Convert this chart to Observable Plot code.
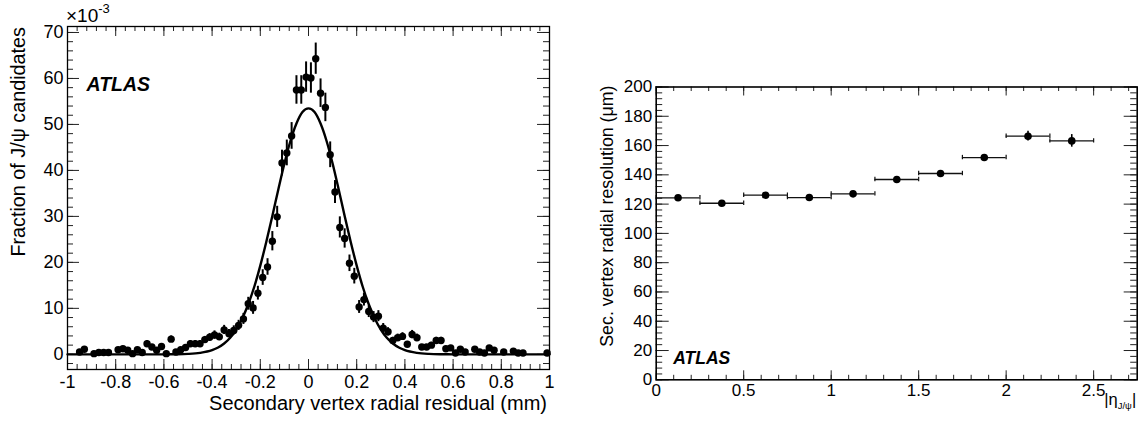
<!DOCTYPE html>
<html><head><meta charset="utf-8">
<script src="https://cdn.jsdelivr.net/npm/d3@7"></script>
<script src="https://cdn.jsdelivr.net/npm/@observablehq/plot@0.6"></script>
<style>
body{margin:0;background:#fff;}
#wrap{display:flex;width:1142px;height:421px;overflow:hidden;}
</style></head><body><div id="wrap"></div>
<script>
// ---- Left panel: secondary vertex radial residual (fraction, x10^-3) ----
const residualX = [-0.95,-0.93,-0.89,-0.87,-0.85,-0.83,-0.79,-0.77,-0.75,-0.73,-0.71,-0.69,-0.67,-0.65,-0.63,-0.61,-0.59,-0.57,-0.55,-0.53,-0.51,-0.49,-0.47,-0.45,-0.43,-0.41,-0.39,-0.37,-0.35,-0.33,-0.31,-0.29,-0.27,-0.25,-0.23,-0.21,-0.19,-0.17,-0.15,-0.13,-0.11,-0.09,-0.07,-0.05,-0.03,-0.01,0.01,0.03,0.05,0.07,0.09,0.11,0.13,0.15,0.17,0.19,0.21,0.23,0.25,0.27,0.29,0.31,0.33,0.35,0.37,0.39,0.41,0.43,0.45,0.47,0.49,0.51,0.53,0.55,0.57,0.59,0.61,0.63,0.65,0.69,0.71,0.73,0.75,0.77,0.81,0.85,0.87,0.89,0.99];
const residualFrac = [0.5,1.1,0.15,0.4,0.4,0.4,1.0,1.2,0.9,0.15,1.0,0.4,2.3,1.6,0.9,1.7,0.15,3.3,0.5,1.0,1.5,2.3,2.3,2.3,3.2,3.7,4.2,3.8,5.3,4.5,5.2,6.3,7.7,11.0,10.1,13.3,16.7,19.0,24.6,29.9,41.6,43.8,47.5,57.5,57.5,60.3,60.1,64.3,56.8,53.7,43.4,35.3,27.6,25.2,19.8,17.0,10.3,11.9,9.3,8.1,8.3,5.7,4.9,3.0,3.6,3.9,2.2,4.3,3.6,1.6,1.6,2.0,3.0,3.0,1.2,1.4,0.3,1.1,0.5,1.1,0.5,0.3,1.4,0.9,0.5,0.7,0.3,0.3,0.3];
const residualErr = [0.4,0.5,0.3,0.4,0.4,0.4,0.4,0.5,0.4,0.3,0.4,0.4,0.7,0.5,0.4,0.5,0.3,0.7,0.4,0.4,0.5,0.7,0.7,0.7,0.7,0.8,0.9,0.8,1.0,0.9,1.0,1.1,1.2,1.4,1.4,1.5,1.7,1.8,2.1,2.3,2.8,2.8,2.9,3.1,3.1,3.3,3.3,3.4,3.1,3.1,2.8,2.5,2.3,2.1,1.8,1.7,1.4,1.4,1.3,1.2,1.2,1.0,0.9,0.7,0.8,0.8,0.6,0.9,0.8,0.5,0.5,0.6,0.7,0.7,0.5,0.5,0.3,0.4,0.4,0.4,0.4,0.3,0.5,0.4,0.4,0.4,0.3,0.3,0.3];
const fitX = [-1,-0.9,-0.8,-0.7,-0.6,-0.55,-0.5,-0.45,-0.4,-0.375,-0.35,-0.325,-0.3,-0.275,-0.25,-0.225,-0.2,-0.175,-0.15,-0.125,-0.1,-0.075,-0.05,-0.025,0,0.025,0.05,0.075,0.1,0.125,0.15,0.175,0.2,0.225,0.25,0.275,0.3,0.325,0.35,0.375,0.4,0.45,0.5,0.55,0.6,0.7,0.8,0.9,1];
const fitY = [0,0,0,0,0,0.02,0.09,0.31,0.90,1.48,2.35,3.6,5.4,7.8,10.9,14.7,19.3,24.5,30.1,35.9,41.5,46.4,50.2,52.7,53.5,52.7,50.2,46.4,41.5,35.9,30.1,24.5,19.3,14.7,10.9,7.8,5.4,3.6,2.35,1.48,0.90,0.31,0.09,0.02,0,0,0,0,0];
const leftXTicks = [-1,-0.8,-0.6,-0.4,-0.2,0,0.2,0.4,0.6,0.8,1];
const leftYTicks = [0,10,20,30,40,50,60,70];

// ---- Right panel: resolution vs |eta| ----
const etaLow  = [0,0.25,0.5,0.75,1.0,1.25,1.5,1.75,2.0,2.25];
const etaHigh = [0.25,0.5,0.75,1.0,1.25,1.5,1.75,2.0,2.25,2.5];
const etaCenter = [0.125,0.375,0.625,0.875,1.125,1.375,1.625,1.875,2.125,2.375];
const resolution = [124.3,120.6,126.1,124.5,127.0,136.8,140.9,151.8,166.4,163.2];
const resolutionErr = [1.5,1.5,1.5,1.5,1.5,1.5,1.8,2.0,3.3,4.3];
const rightXTicks = [0,0.5,1,1.5,2,2.5];
const rightYTicks = [0,20,40,60,80,100,120,140,160,180,200];

const FONT = '"Liberation Sans", Arial, Helvetica, sans-serif';

const leftRows = residualX.map((x,i)=>({x, v: residualFrac[i], e: residualErr[i]}));
const fitRows = fitX.map((x,i)=>({x, y: fitY[i]}));
const rightRows = etaCenter.map((c,i)=>({c, lo: etaLow[i], hi: etaHigh[i], v: resolution[i], e: resolutionErr[i]}));

// Left geometry
const L = {w:570, h:421, ml:67, mr:21, mt:26, mb:52};
const LpW = L.w-L.ml-L.mr, LpH = L.h-L.mt-L.mb;
const leftXMinor = d3.range(-25,26).map(i=>i*0.04);
const leftYMinor = d3.range(-1,36).map(i=>i*2);

const tickStyle = {stroke: "#222", strokeWidth: 1};

const left = Plot.plot({
  width: L.w, height: L.h, marginLeft: L.ml, marginRight: L.mr, marginTop: L.mt, marginBottom: L.mb,
  style: {fontFamily: FONT, fontSize: "17px", color: "black", background: "white", overflow: "visible"},
  x: {domain: [-1, 1]},
  y: {domain: [-3.3, 71.3]},
  marks: [
    Plot.tickX(leftXTicks, {x: d=>d, insetTop: LpH-10, ...tickStyle}),
    Plot.tickX(leftXMinor, {x: d=>d, insetTop: LpH-5, ...tickStyle}),
    Plot.tickX(leftXTicks, {x: d=>d, insetBottom: LpH-10, ...tickStyle}),
    Plot.tickX(leftXMinor, {x: d=>d, insetBottom: LpH-5, ...tickStyle}),
    Plot.tickY(leftYTicks, {y: d=>d, insetRight: LpW-12, ...tickStyle}),
    Plot.tickY(leftYMinor, {y: d=>d, insetRight: LpW-6, ...tickStyle}),
    Plot.tickY(leftYTicks, {y: d=>d, insetLeft: LpW-12, ...tickStyle}),
    Plot.tickY(leftYMinor, {y: d=>d, insetLeft: LpW-6, ...tickStyle}),
    Plot.axisX({ticks: leftXTicks, tickSize: 0, tickPadding: 6, tickFormat: d=>String(d), label: null, fontSize: 18, fontFamily: FONT, fill: "black"}),
    Plot.axisY({ticks: leftYTicks, tickSize: 0, tickPadding: 4, tickFormat: d=>String(d), label: null, fontSize: 18, fontFamily: FONT, fill: "black"}),
    Plot.line(fitRows, {x: "x", y: "y", curve: "monotone-x", stroke: "black", strokeWidth: 2.4}),
    Plot.ruleX(leftRows, {x: "x", y1: d=>d.v-d.e, y2: d=>d.v+d.e, stroke: "black", strokeWidth: 2}),
    Plot.dot(leftRows, {x: "x", y: "v", r: 3.7, fill: "black", stroke: null}),
    Plot.text(["ATLAS"], {frameAnchor: "top-left", dx: 19, dy: 58, textAnchor: "start", lineAnchor: "middle", fontWeight: "bold", fontStyle: "italic", fontSize: 19.5, fontFamily: FONT, fill: "black"}),
    Plot.frame({stroke: "black", strokeWidth: 1.3})
  ]
});

// Right geometry
const R = {w:572, h:421, ml:85.7, mr:5.3, mt:86.5, mb:41.7};
const RpW = R.w-R.ml-R.mr, RpH = R.h-R.mt-R.mb;
const rightXMinor = d3.range(0,28).map(i=>i*0.1);
const rightYMinor = d3.range(0,51).map(i=>i*4);

const right = Plot.plot({
  width: R.w, height: R.h, marginLeft: R.ml, marginRight: R.mr, marginTop: R.mt, marginBottom: R.mb,
  style: {fontFamily: FONT, fontSize: "17px", color: "black", background: "white", overflow: "visible"},
  x: {domain: [0, 2.749]},
  y: {domain: [0, 200]},
  marks: [
    Plot.tickX(rightXTicks, {x: d=>d, insetTop: RpH-9, ...tickStyle}),
    Plot.tickX(rightXMinor, {x: d=>d, insetTop: RpH-4.5, ...tickStyle}),
    Plot.tickX(rightXTicks, {x: d=>d, insetBottom: RpH-9, ...tickStyle}),
    Plot.tickX(rightXMinor, {x: d=>d, insetBottom: RpH-4.5, ...tickStyle}),
    Plot.tickY(rightYTicks, {y: d=>d, insetRight: RpW-13, ...tickStyle}),
    Plot.tickY(rightYMinor, {y: d=>d, insetRight: RpW-6.5, ...tickStyle}),
    Plot.tickY(rightYTicks, {y: d=>d, insetLeft: RpW-13, ...tickStyle}),
    Plot.tickY(rightYMinor, {y: d=>d, insetLeft: RpW-6.5, ...tickStyle}),
    Plot.axisX({ticks: rightXTicks, tickSize: 0, tickPadding: 4, tickFormat: d=>String(d), label: null, fontSize: 17, fontFamily: FONT, fill: "black"}),
    Plot.axisY({ticks: rightYTicks, tickSize: 0, tickPadding: 4, tickFormat: d=>String(d), label: null, fontSize: 17, fontFamily: FONT, fill: "black"}),
    Plot.ruleY(rightRows, {y: "v", x1: "lo", x2: "hi", stroke: "#111", strokeWidth: 1.3}),
    Plot.ruleX(rightRows, {x: "lo", y1: "v", y2: "v", insetTop: -2.2, insetBottom: -2.2, stroke: "#111", strokeWidth: 1.2}),
    Plot.ruleX(rightRows, {x: "hi", y1: "v", y2: "v", insetTop: -2.2, insetBottom: -2.2, stroke: "#111", strokeWidth: 1.2}),
    Plot.ruleX(rightRows, {x: "c", y1: d=>d.v-d.e, y2: d=>d.v+d.e, stroke: "black", strokeWidth: 1.6}),
    Plot.dot(rightRows, {x: "c", y: "v", r: 3.8, fill: "black", stroke: null}),
    Plot.text(["ATLAS"], {frameAnchor: "bottom-left", dx: 17, dy: -21, textAnchor: "start", lineAnchor: "middle", fontWeight: "bold", fontStyle: "italic", fontSize: 17.5, fontFamily: FONT, fill: "black"}),
    Plot.frame({stroke: "black", strokeWidth: 1.6})
  ]
});

// ---- Titles ----
const ls = d3.select(left);
ls.append("text").attr("x", L.w - L.mr - 2).attr("y", 410).attr("text-anchor", "end")
  .attr("font-size", 20).attr("font-family", FONT).attr("fill", "black")
  .text("Secondary vertex radial residual (mm)");
ls.append("text").attr("transform", `translate(25,${L.mt + 1}) rotate(-90)`).attr("text-anchor", "end")
  .attr("font-size", 19.8).attr("font-family", FONT).attr("fill", "black")
  .text("Fraction of J/ψ candidates");
const mult = ls.append("text").attr("x", L.ml - 1).attr("y", 22).attr("text-anchor", "start")
  .attr("font-family", FONT).attr("fill", "black").attr("font-size", 19);
mult.append("tspan").text("×10");
mult.append("tspan").attr("font-size", 13).attr("dy", -9).text("-3");

const rs = d3.select(right);
rs.append("text").attr("transform", `translate(43,${R.mt - 1}) rotate(-90)`).attr("text-anchor", "end")
  .attr("font-size", 17.8).attr("font-family", FONT).attr("fill", "black")
  .text("Sec. vertex radial resolution (μm)");
const et = rs.append("text").attr("x", R.w - R.mr - 0.5).attr("y", 405).attr("text-anchor", "end")
  .attr("font-family", FONT).attr("fill", "black").attr("font-size", 16.5);
et.append("tspan").text("|η");
et.append("tspan").attr("font-size", 9.5).attr("dy", 4).text("J/ψ");
et.append("tspan").attr("dy", -4).text("|");

const wrap = document.getElementById("wrap");
wrap.appendChild(left);
wrap.appendChild(right);
</script></body></html>
